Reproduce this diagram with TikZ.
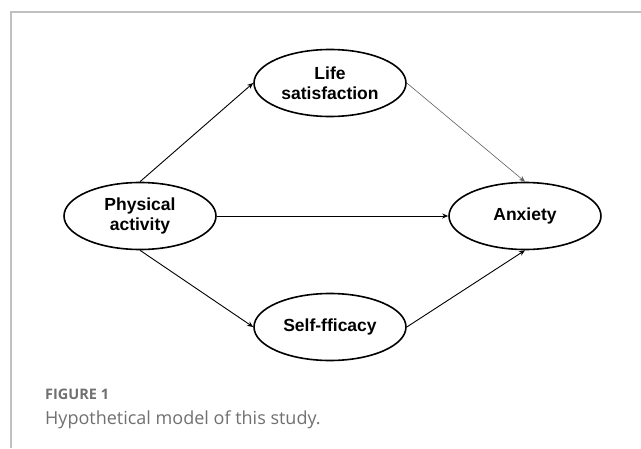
\documentclass[tikz,border=0pt]{standalone}
\usepackage{fontspec}
\setmainfont{Liberation Sans}
\newfontfamily\capfont{Open Sans}
\definecolor{frame}{RGB}{192,192,192}
\definecolor{capgray}{RGB}{112,112,112}
\definecolor{thin}{RGB}{95,95,95}
\usetikzlibrary{shapes.geometric, arrows.meta}
\tikzstyle{construct} = [ellipse, draw=black, line width=1.6pt, minimum width=152pt, minimum height=67pt, inner sep=0pt, text centered, align=center, font=\fontsize{17.5}{20}\selectfont\bfseries]
\tikzstyle{arrow} = [line width=0.9pt, -{Stealth[length=6pt, width=5pt]}]
\tikzstyle{thinarrow} = [line width=0.6pt, -{Stealth[length=6pt, width=5pt]}, draw=thin]
\tikzstyle{caption} = [anchor=base west, inner sep=0pt, text=capgray]

\begin{document}
\begin{tikzpicture}[node distance=190pt]
        \useasboundingbox (-140pt,216pt) rectangle (501pt,-232pt);
        \draw [frame, line width=1.4pt] (501pt,204pt) -- (-129pt,204pt) -- (-129pt,-232pt);

        \node (node0) [construct] {Physical\\activity};
        \node (node1) [construct, right of=node0, yshift=133pt] {Life\\satisfaction};
        \node (node2) [construct, right of=node0, yshift=-111pt] {Self-fficacy};
        \node (node3) [construct, right of=node0, xshift=195pt] {Anxiety};

        \draw [arrow] (node0.north) -- (node1.west);
        \draw [arrow] (node0.east) -- (node3.west);
        \draw [arrow] (node0.south) -- (node2.west);
        \draw [thinarrow] (node1.east) -- (node3.north);
        \draw [arrow] (node2.east) -- (node3.south);

        \node (fig) [caption] at (-95pt,-183pt) {\capfont\fontsize{14.5}{17}\selectfont\bfseries FIGURE 1};
        \node (cap) [caption] at (-95pt,-208pt) {\capfont\fontsize{18}{22}\selectfont Hypothetical model of this study.};
    \end{tikzpicture}
\end{document}
